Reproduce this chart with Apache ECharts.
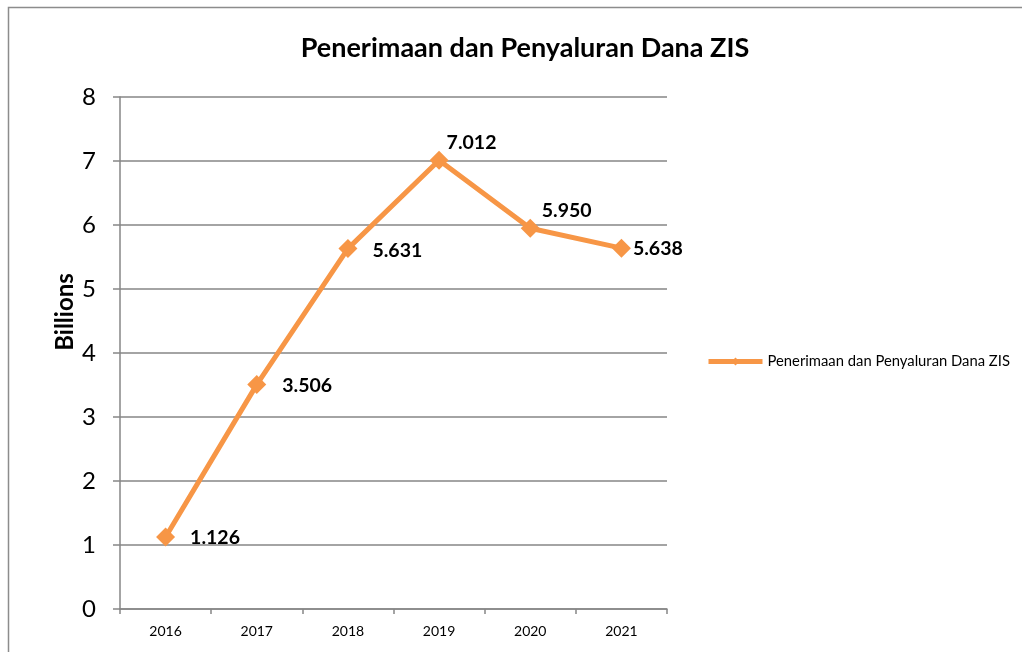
<!DOCTYPE html>
<html>
<head>
<meta charset="utf-8">
<script src="https://cdn.jsdelivr.net/npm/echarts@6/dist/echarts.min.js"></script>
<style>
  html, body { margin: 0; padding: 0; background: #fff; }
  #main { width: 1022px; height: 652px; }
</style>
</head>
<body>
<div id="main"></div>
<script>
var years = ['2016', '2017', '2018', '2019', '2020', '2021'];
var values = [1.126, 3.506, 5.631, 7.012, 5.950, 5.638];
var seriesName = 'Penerimaan dan Penyaluran Dana ZIS';
var axisName = 'Billions';

// label nudges, to sit the numbers where the original puts them
var labelNudge = [[10, 1], [11, 1], [10, 2], [-7, -18], [-3, -17], [-3, 1]];

var fontName = 'Lato';
var lineColor = '#F79646';
var axisGray = '#868686';

var chart = echarts.init(document.getElementById('main'));

var points = values.map(function (v, i) {
  return { value: v, label: { position: 'right', offset: labelNudge[i] } };
});

var option = {
  backgroundColor: '#ffffff',
  textStyle: { fontFamily: fontName },
  title: {
    text: seriesName,
    left: 520,
    textAlign: 'center',
    top: 30,
    textStyle: { fontFamily: fontName, fontSize: 27, fontWeight: 'bold', color: '#000' }
  },
  graphic: [{
    type: 'rect',
    shape: { x: 8.5, y: 7.5, width: 1040, height: 700 },
    style: { fill: 'none', stroke: '#8c8c8c', lineWidth: 1.5 },
    silent: true
  }, {
    type: 'text',
    x: 65,
    y: 312,
    rotation: Math.PI / 2,
    style: {
      text: axisName,
      fontFamily: fontName,
      fontSize: 24,
      fontWeight: 'bold',
      fill: '#000',
      align: 'center',
      verticalAlign: 'middle'
    },
    silent: true
  }],
  legend: {
    data: [seriesName],
    left: 706,
    top: 354,
    padding: 0,
    itemWidth: 54,
    itemHeight: 10,
    itemGap: 6,
    lineStyle: { width: 5 },
    textStyle: { fontFamily: fontName, fontSize: 14.8, color: '#000' }
  },
  grid: { left: 120, right: 355, top: 97, bottom: 43, containLabel: false },
  xAxis: {
    type: 'category',
    data: years,
    boundaryGap: true,
    axisLine: { lineStyle: { color: axisGray, width: 1.5 } },
    axisTick: { show: true, length: 5, inside: false, lineStyle: { color: axisGray, width: 1.5 } },
    axisLabel: { color: '#000', fontSize: 14, margin: 15 },
    splitLine: { show: false }
  },
  yAxis: {
    type: 'value',
    min: 0,
    max: 8,
    interval: 1,
    axisLine: { show: true, lineStyle: { color: axisGray, width: 1.5 } },
    axisTick: { show: true, length: 7, inside: false, lineStyle: { color: axisGray, width: 1.5 } },
    axisLabel: { color: '#000', fontSize: 24, margin: 24 },
    splitLine: { show: true, lineStyle: { color: axisGray, width: 1.5 } }
  },
  series: [{
    name: seriesName,
    type: 'line',
    data: points,
    symbol: 'diamond',
    symbolSize: 19,
    itemStyle: { color: lineColor },
    lineStyle: { color: lineColor, width: 5 },
    label: {
      show: true,
      fontFamily: fontName,
      fontSize: 19.5,
      fontWeight: 'bold',
      color: '#000',
      formatter: function (p) { return p.value.toFixed(3); }
    },
    animation: false
  }]
};

chart.setOption(option);
</script>
</body>
</html>
